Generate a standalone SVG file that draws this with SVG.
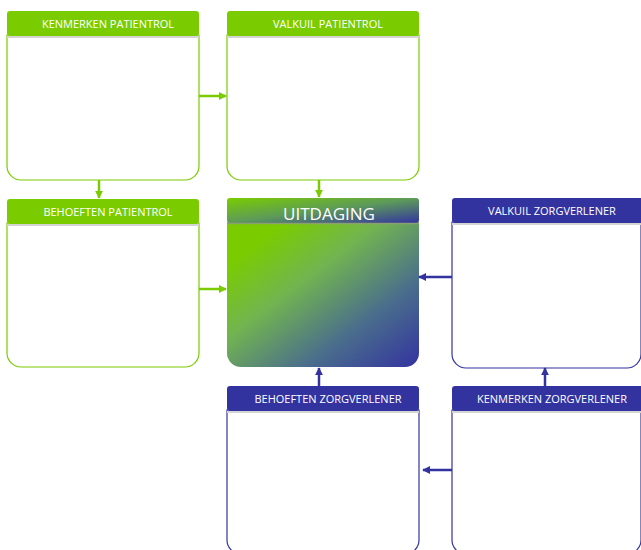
<svg xmlns="http://www.w3.org/2000/svg" width="641" height="550" viewBox="0 0 641 550">
<defs>
<style>
.hg{fill:#7ACC00}
.hb{fill:#3333A0}
.bg{fill:#fff;stroke:#7ACC00;stroke-width:1.2}
.bb{fill:#fff;stroke:#3333A0;stroke-width:1.2}
.sep{stroke:#d4d4d4;stroke-width:2}
.t{font-family:"Open Sans","Liberation Sans",sans-serif;font-size:11px;fill:#fff;text-anchor:middle}
.cg{stroke:#7ACC00;stroke-width:2.5;fill:none}
.cb{stroke:#3333A0;stroke-width:2.5;fill:none}
</style>
<marker id="ag" viewBox="0 0 10 10" refX="9" refY="5" markerWidth="3.2" markerHeight="3.2" orient="auto"><path d="M0,0L10,5L0,10z" fill="#7ACC00"/></marker>
<marker id="ab" viewBox="0 0 10 10" refX="9" refY="5" markerWidth="3.2" markerHeight="3.2" orient="auto"><path d="M0,0L10,5L0,10z" fill="#3333A0"/></marker>
<linearGradient id="ug" x1="0" y1="0" x2="1" y2="1">
<stop offset="0" stop-color="#7ACC00"/>
<stop offset="0.15" stop-color="#7ACC00"/>
<stop offset="0.4" stop-color="#72b450"/>
<stop offset="0.7" stop-color="#4a6e8c"/>
<stop offset="1" stop-color="#3333A0"/>
</linearGradient>
<linearGradient id="uh" x1="0" y1="0" x2="1" y2="1">
<stop offset="0" stop-color="#7ACC00"/>
<stop offset="0.5" stop-color="#5d9a5a"/>
<stop offset="1" stop-color="#3333A0"/>
</linearGradient>
</defs>

<g id="kenmerken-patientrol">
<path class="bg" d="M7,35V166a14,14 0 0 0 14,14H185a14,14 0 0 0 14-14V35z"/>
<rect class="hg" x="7" y="11" width="192" height="25" rx="3"/>
<line class="sep" x1="7" y1="37" x2="199" y2="37"/>
<text class="t" x="108" y="27.5">KENMERKEN PATIENTROL</text>
</g>

<g id="valkuil-patientrol">
<path class="bg" d="M227,35V166a14,14 0 0 0 14,14H405a14,14 0 0 0 14-14V35z"/>
<rect class="hg" x="227" y="11" width="192" height="25" rx="3"/>
<line class="sep" x1="227" y1="37" x2="419" y2="37"/>
<text class="t" x="328" y="27.5">VALKUIL PATIENTROL</text>
</g>

<g id="behoeften-patientrol">
<path class="bg" d="M7,223V353a14,14 0 0 0 14,14H185a14,14 0 0 0 14-14V223z"/>
<rect class="hg" x="7" y="199" width="192" height="25" rx="3"/>
<line class="sep" x1="7" y1="225" x2="199" y2="225"/>
<text class="t" x="108" y="215.5">BEHOEFTEN PATIENTROL</text>
</g>

<g id="uitdaging">
<path d="M227,222V353a14,14 0 0 0 14,14H405a14,14 0 0 0 14-14V222z" fill="url(#ug)"/>
<rect x="227" y="198" width="192" height="25" rx="3" fill="url(#uh)"/>
<line x1="227" y1="223.5" x2="419" y2="223.5" stroke="#8aa070" stroke-width="1.5"/>
<text x="329" y="220" font-family="'Open Sans','Liberation Sans',sans-serif" font-size="17" fill="#fff" text-anchor="middle">UITDAGING</text>
</g>

<g id="valkuil-zorgverlener">
<path class="bb" d="M452,222V354a14,14 0 0 0 14,14H627a14,14 0 0 0 14-14V222z"/>
<rect class="hb" x="452" y="198" width="192" height="25" rx="3"/>
<line class="sep" x1="452" y1="224" x2="641" y2="224"/>
<text class="t" x="552" y="214.5">VALKUIL ZORGVERLENER</text>
</g>

<g id="behoeften-zorgverlener">
<path class="bb" d="M227,410V540a14,14 0 0 0 14,14H405a14,14 0 0 0 14-14V410z"/>
<rect class="hb" x="227" y="386" width="192" height="25" rx="3"/>
<line class="sep" x1="227" y1="412" x2="419" y2="412"/>
<text class="t" x="328" y="402.5">BEHOEFTEN ZORGVERLENER</text>
</g>

<g id="kenmerken-zorgverlener">
<path class="bb" d="M452,410V540a14,14 0 0 0 14,14H627a14,14 0 0 0 14-14V410z"/>
<rect class="hb" x="452" y="386" width="192" height="25" rx="3"/>
<line class="sep" x1="452" y1="412" x2="641" y2="412"/>
<text class="t" x="552" y="402.5">KENMERKEN ZORGVERLENER</text>
</g>

<g id="connectors">
<line class="cg" x1="199" y1="96" x2="226" y2="96" marker-end="url(#ag)"/>
<line class="cg" x1="99" y1="180" x2="99" y2="198" marker-end="url(#ag)"/>
<line class="cg" x1="319" y1="180" x2="319" y2="197" marker-end="url(#ag)"/>
<line class="cg" x1="199" y1="289" x2="226" y2="289" marker-end="url(#ag)"/>
<line class="cb" x1="452" y1="277" x2="419" y2="277" marker-end="url(#ab)"/>
<line class="cb" x1="545" y1="386" x2="545" y2="368" marker-end="url(#ab)"/>
<line class="cb" x1="319" y1="386" x2="319" y2="368" marker-end="url(#ab)"/>
<line class="cb" x1="452" y1="470" x2="423" y2="470" marker-end="url(#ab)"/>
</g>
</svg>
